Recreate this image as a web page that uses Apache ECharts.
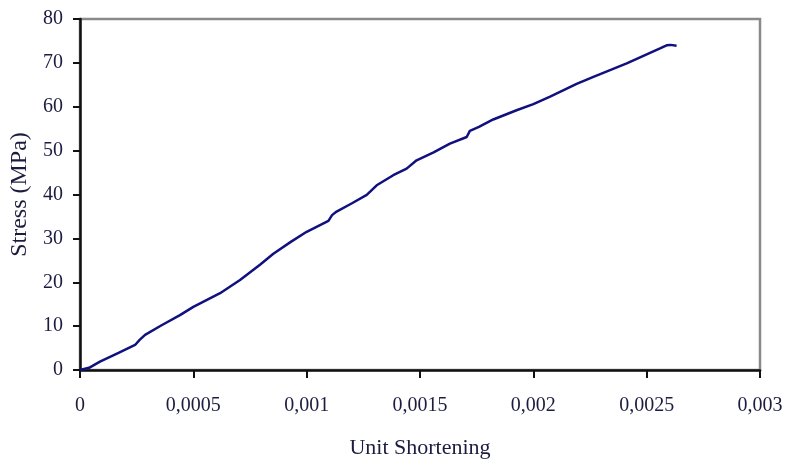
<!DOCTYPE html>
<html>
<head>
<meta charset="utf-8">
<script src="https://cdn.jsdelivr.net/npm/echarts@6/dist/echarts.min.js"></script>
<style>
html,body{margin:0;padding:0;background:#fff;}
#chart{width:787px;height:460px;}
</style>
</head>
<body>
<div id="chart"></div>
<script>
// Unit shortening (x) and stress in MPa (y)
const strain = [0, 0.00004, 0.000088, 0.00017, 0.000243, 0.000262, 0.000287, 0.00036, 0.000441, 0.0005, 0.000618, 0.000706, 0.000794, 0.000853, 0.00093, 0.001, 0.001096, 0.001112, 0.001132, 0.0012, 0.001265, 0.001309, 0.001382, 0.001441, 0.001485, 0.00156, 0.001632, 0.001706, 0.00172, 0.00176, 0.001823, 0.001926, 0.002, 0.002074, 0.002191, 0.002265, 0.002412, 0.002559, 0.002588, 0.002605, 0.002632];
const stress = [0, 0.5, 1.9, 3.9, 5.7, 6.8, 8.0, 10.2, 12.5, 14.4, 17.5, 20.5, 24.0, 26.5, 29.2, 31.5, 34.0, 35.3, 36.1, 38.0, 39.9, 42.1, 44.4, 45.9, 47.8, 49.6, 51.6, 53.1, 54.5, 55.4, 57.1, 59.2, 60.6, 62.3, 65.2, 66.8, 69.9, 73.3, 74.0, 74.1, 73.9];
const xTickLabels = ['0', '0,0005', '0,001', '0,0015', '0,002', '0,0025', '0,003'];
const yTickLabels = ['0', '10', '20', '30', '40', '50', '60', '70', '80'];
const xAxisTitle = 'Unit Shortening';
const yAxisTitle = 'Stress (MPa)';

const chart = echarts.init(document.getElementById('chart'), null, {renderer: 'canvas'});
const labelColor = '#1c1c40';
const font = 'Liberation Serif';
chart.setOption({
  animation: false,
  backgroundColor: '#fff',
  grid: {left: 80, right: 27, top: 19, bottom: 90, containLabel: false, outerBoundsMode: 'none',
    show: true, borderColor: '#8a8a8a', borderWidth: 2.5, backgroundColor: 'transparent'},
  xAxis: {
    type: 'value', min: 0, max: 0.003, interval: 0.0005,
    name: xAxisTitle, nameLocation: 'middle', nameGap: 67,
    nameTextStyle: {color: labelColor, fontFamily: font, fontSize: 22},
    axisLine: {show: true, onZero: false, lineStyle: {color: '#111', width: 2.5}},
    axisTick: {show: true, inside: false, length: 8, lineStyle: {color: '#111', width: 2}},
    axisLabel: {margin: 26, color: labelColor, fontFamily: font, fontSize: 20,
      formatter: v => xTickLabels[Math.round(v / 0.0005)]},
    splitLine: {show: false}
  },
  yAxis: {
    type: 'value', min: 0, max: 80, interval: 10,
    name: yAxisTitle, nameLocation: 'middle', nameGap: 48, nameRotate: 90,
    nameTextStyle: {color: labelColor, fontFamily: font, fontSize: 24},
    axisLine: {show: true, onZero: false, lineStyle: {color: '#111', width: 2.5}},
    axisTick: {show: true, inside: false, length: 7, lineStyle: {color: '#111', width: 2}},
    axisLabel: {margin: 17, color: labelColor, fontFamily: font, fontSize: 20,
      formatter: v => yTickLabels[Math.round(v / 10)]},
    splitLine: {show: false}
  },
  series: [{
    type: 'line',
    data: strain.map((x, i) => [x, stress[i]]),
    showSymbol: false,
    smooth: false,
    lineStyle: {color: '#10107e', width: 2.5}
  }]
});
</script>
</body>
</html>
